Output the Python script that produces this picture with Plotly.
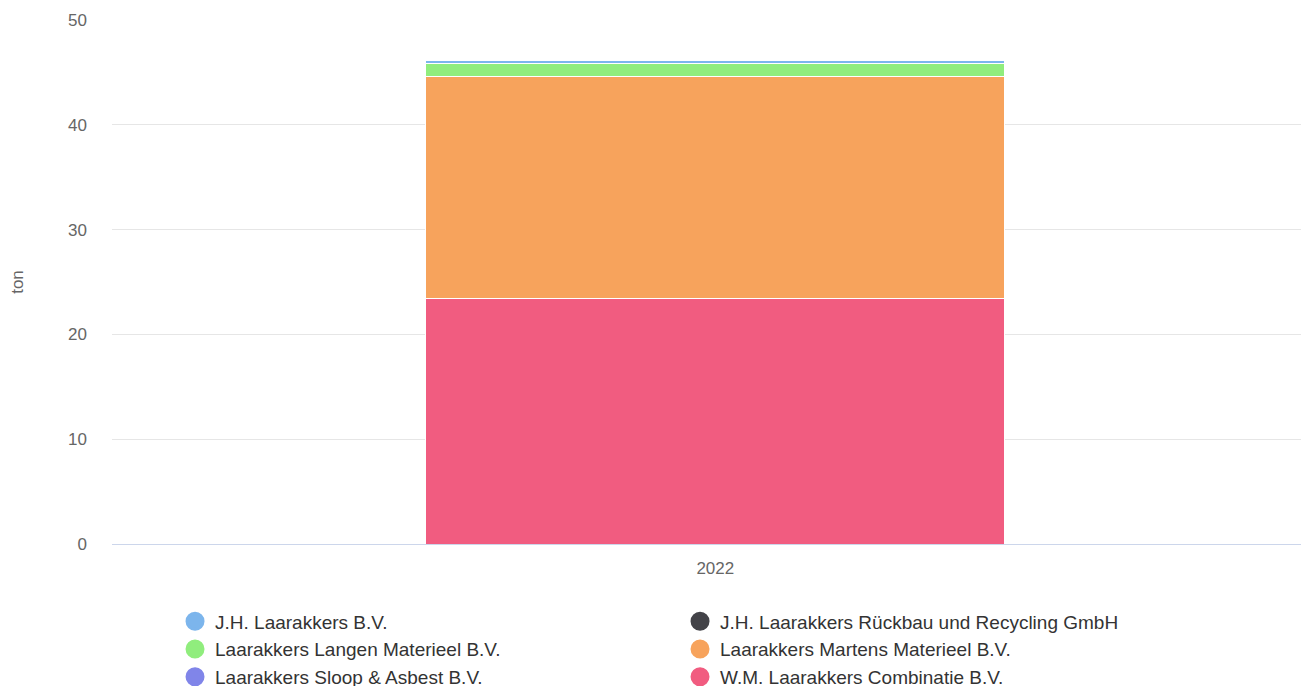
import plotly.graph_objects as go

categories = ["2022"]
series_names = [
    "J.H. Laarakkers B.V.",
    "J.H. Laarakkers Rückbau und Recycling GmbH",
    "Laarakkers Langen Materieel B.V.",
    "Laarakkers Martens Materieel B.V.",
    "Laarakkers Sloop & Asbest B.V.",
    "W.M. Laarakkers Combinatie B.V.",
]
series_values = [
    [0.3],
    [0.0],
    [1.2],
    [21.2],
    [0.0],
    [23.45],
]
colors = ["#7cb5ec", "#434348", "#90ed7d", "#f7a35c", "#8085e9", "#f15c80"]
y_ticks = [0, 10, 20, 30, 40, 50]

fig = go.Figure()

# stacked bars: bottom first (reverse of legend order)
for name, vals, col in reversed(list(zip(series_names, series_values, colors))):
    fig.add_trace(go.Bar(
        x=categories, y=vals, name=name, marker=dict(color=col, line=dict(color="white", width=1)),
        showlegend=False, hovertemplate="%{y} ton<extra>" + name + "</extra>",
    ))

# legend entries with circle markers
for name, col in zip(series_names, colors):
    fig.add_trace(go.Scatter(
        x=[None], y=[None], mode="markers", name=name,
        marker=dict(color=col, size=16, symbol="circle", line=dict(color=col, width=3)),
        showlegend=True,
    ))

fig.update_layout(
    width=1309, height=686,
    barmode="stack", bargap=0.516,
    plot_bgcolor="white", paper_bgcolor="white",
    margin=dict(l=104, r=8, t=12, b=150, autoexpand=False),
    font=dict(family="Liberation Sans, Arial, sans-serif", color="#666666", size=17),
    xaxis=dict(
        type="category", range=[-0.504, 0.496], showline=True, linecolor="#ccd6eb", linewidth=1,
        ticks="", showgrid=False, tickfont=dict(size=17, color="#666666"), ticklabelstandoff=9,
        automargin=False,
    ),
    yaxis=dict(
        range=[0, 50], tickvals=y_ticks, gridcolor="#e6e6e6", gridwidth=1,
        zeroline=True, zerolinecolor="#ccd6eb", zerolinewidth=1,
        title=dict(text="ton", font=dict(size=17, color="#666666"), standoff=42),
        tickfont=dict(size=17, color="#666666"), ticklabelstandoff=24, automargin=False,
    ),
    legend=dict(
        orientation="h", xref="container", yref="container",
        x=0.1276, xanchor="left", y=0.1334, yanchor="top",
        entrywidth=460, entrywidthmode="pixels", traceorder="normal",
        font=dict(size=19, color="#333333"), itemsizing="trace",
    ),
)

fig.write_html("out.html")
